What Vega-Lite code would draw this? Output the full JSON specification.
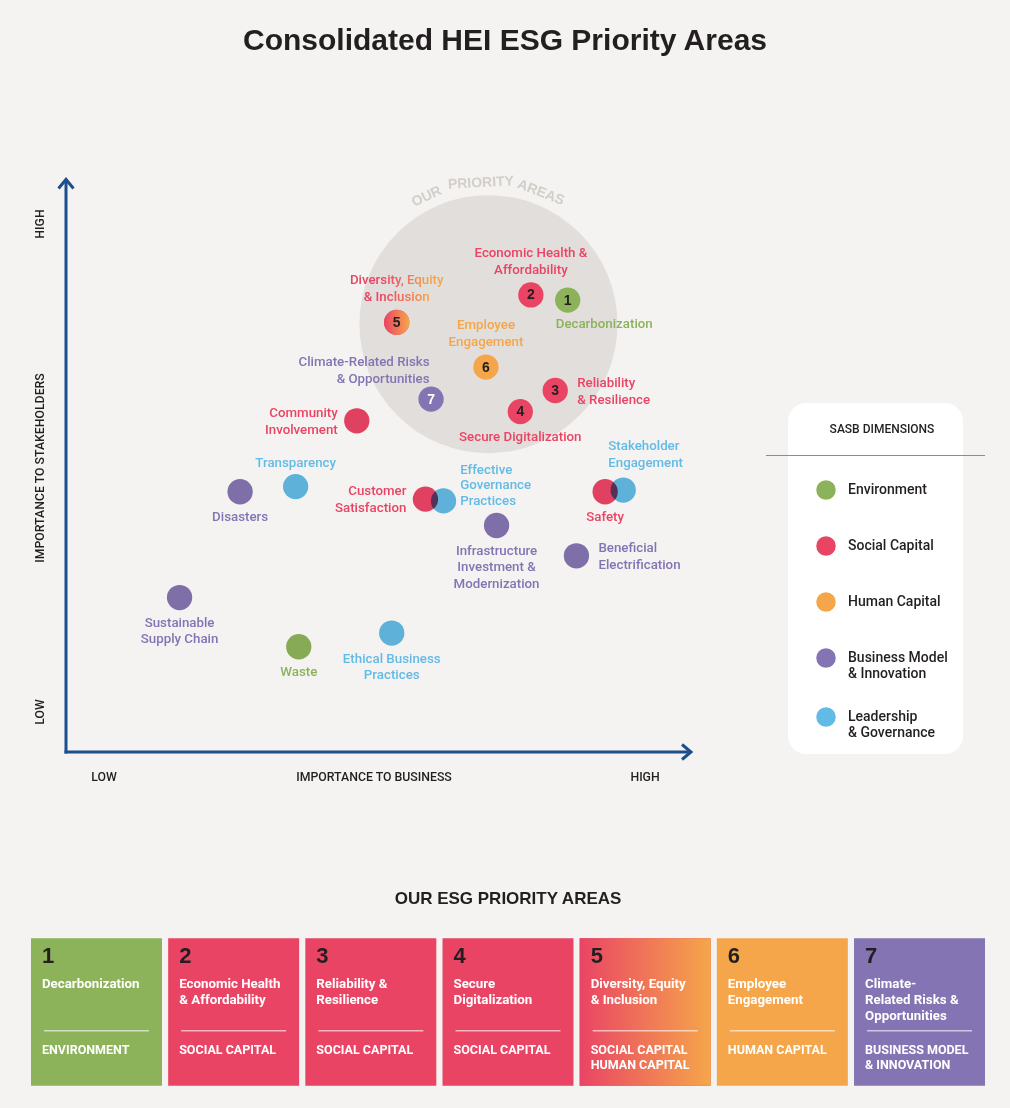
{
  "$schema": "https://vega.github.io/schema/vega-lite/v6.json",
  "width": 1010,
  "height": 1108,
  "autosize": {"type": "fit", "contains": "padding"},
  "padding": 0,
  "background": "#f4f3f1",
  "title": {"text": "Consolidated HEI ESG Priority Areas", "font": "Liberation Sans", "fontSize": 30, "fontWeight": "bold", "color": "#231f20", "anchor": "middle", "offset": -56, "frame": "group"},
  "config": {"view": {"stroke": null}, "axis": {"disable": true}},
  "datasets": {
    "points": [
      {"name": "Decarbonization", "label": "Decarbonization", "dim": "Environment", "bx": 80.4, "sy": 79.0, "num": 1, "pos": "bottomright"},
      {"name": "Economic Health & Affordability", "label": "Economic Health &\nAffordability", "dim": "Social Capital", "bx": 74.5, "sy": 79.9, "num": 2, "pos": "top2"},
      {"name": "Reliability & Resilience", "label": "Reliability\n& Resilience", "dim": "Social Capital", "bx": 78.4, "sy": 63.2, "num": 3, "pos": "right"},
      {"name": "Secure Digitalization", "label": "Secure Digitalization", "dim": "Social Capital", "bx": 72.8, "sy": 59.5, "num": 4, "pos": "bottom"},
      {"name": "Diversity, Equity & Inclusion", "label": "Diversity, Equity\n& Inclusion", "dim": "Social Capital", "bx": 53.0, "sy": 75.1, "num": 5, "pos": "topgradient"},
      {"name": "Employee Engagement", "label": "Employee\nEngagement", "dim": "Human Capital", "bx": 67.3, "sy": 67.3, "num": 6, "pos": "top2"},
      {"name": "Climate-Related Risks & Opportunities", "label": "Climate-Related Risks\n& Opportunities", "dim": "Business Model & Innovation", "bx": 58.5, "sy": 61.7, "num": 7, "pos": "topleft"},
      {"name": "Community Involvement", "label": "Community\nInvolvement", "dim": "Social Capital", "bx": 46.6, "sy": 57.9, "pos": "left"},
      {"name": "Transparency", "label": "Transparency", "dim": "Leadership & Governance", "bx": 36.8, "sy": 46.4, "pos": "top1"},
      {"name": "Disasters", "label": "Disasters", "dim": "Business Model & Innovation", "bx": 27.9, "sy": 45.5, "pos": "bottom"},
      {"name": "Customer Satisfaction", "label": "Customer\nSatisfaction", "dim": "Social Capital", "bx": 57.6, "sy": 44.2, "pos": "left"},
      {"name": "Effective Governance Practices", "label": "Effective\nGovernance\nPractices", "dim": "Leadership & Governance", "bx": 60.5, "sy": 43.9, "pos": "rightup"},
      {"name": "Safety", "label": "Safety", "dim": "Social Capital", "bx": 86.4, "sy": 45.5, "pos": "bottom"},
      {"name": "Stakeholder Engagement", "label": "Stakeholder\nEngagement", "dim": "Leadership & Governance", "bx": 89.3, "sy": 45.8, "pos": "topright"},
      {"name": "Infrastructure Investment & Modernization", "label": "Infrastructure\nInvestment &\nModernization", "dim": "Business Model & Innovation", "bx": 69.0, "sy": 39.6, "pos": "bottom"},
      {"name": "Beneficial Electrification", "label": "Beneficial\nElectrification", "dim": "Business Model & Innovation", "bx": 81.8, "sy": 34.3, "pos": "right"},
      {"name": "Sustainable Supply Chain", "label": "Sustainable\nSupply Chain", "dim": "Business Model & Innovation", "bx": 18.2, "sy": 27.0, "pos": "bottom"},
      {"name": "Waste", "label": "Waste", "dim": "Environment", "bx": 37.3, "sy": 18.4, "pos": "bottom"},
      {"name": "Ethical Business Practices", "label": "Ethical Business\nPractices", "dim": "Leadership & Governance", "bx": 52.2, "sy": 20.8, "pos": "bottom"}
    ],
    "cards": [
      {"id": "1", "name": "Decarbonization", "dimlab": "ENVIRONMENT", "dim": "Environment"},
      {"id": "2", "name": "Economic Health\n& Affordability", "dimlab": "SOCIAL CAPITAL", "dim": "Social Capital"},
      {"id": "3", "name": "Reliability &\nResilience", "dimlab": "SOCIAL CAPITAL", "dim": "Social Capital"},
      {"id": "4", "name": "Secure\nDigitalization", "dimlab": "SOCIAL CAPITAL", "dim": "Social Capital"},
      {"id": "5", "name": "Diversity, Equity\n& Inclusion", "dimlab": "SOCIAL CAPITAL\nHUMAN CAPITAL", "dim": "Social Capital"},
      {"id": "6", "name": "Employee\nEngagement", "dimlab": "HUMAN CAPITAL", "dim": "Human Capital"},
      {"id": "7", "name": "Climate-\nRelated Risks &\nOpportunities", "dimlab": "BUSINESS MODEL\n& INNOVATION", "dim": "Business Model & Innovation"}
    ]
  },
  "layer": [
    {
      "layer": [
        {
          "data": {"values": [{}]},
          "mark": {"type": "point", "filled": true, "size": 66564, "color": "#e2dedb", "opacity": 1},
          "encoding": {
            "x": {"datum": 67.7, "type": "quantitative", "scale": {"domain": [-10.577, 151.282], "nice": false, "zero": false}},
            "y": {"datum": 74.8, "type": "quantitative", "scale": {"domain": [-62.238, 131.469], "nice": false, "zero": false}}
          }
        },
        {
          "data": {"values": [{}]},
          "mark": {"type": "text", "text": "OUR", "angle": -25, "font": "Liberation Sans", "fontSize": 14, "fontWeight": "bold", "color": "#d3cec9", "align": "center", "baseline": "middle"},
          "encoding": {"x": {"datum": 57.8}, "y": {"datum": 97.1}}
        },
        {
          "data": {"values": [{}]},
          "mark": {"type": "text", "text": "PRIORITY", "angle": -3, "font": "Liberation Sans", "fontSize": 14, "fontWeight": "bold", "color": "#d3cec9", "align": "center", "baseline": "middle"},
          "encoding": {"x": {"datum": 66.5}, "y": {"datum": 99.48}}
        },
        {
          "data": {"values": [{}]},
          "mark": {"type": "text", "text": "AREAS", "angle": 21, "font": "Liberation Sans", "fontSize": 14, "fontWeight": "bold", "color": "#d3cec9", "align": "center", "baseline": "middle"},
          "encoding": {"x": {"datum": 76.1}, "y": {"datum": 97.8}}
        },
        {
          "data": {"values": [{}]},
          "mark": {"type": "rule", "color": "#1c4f8e", "strokeWidth": 3},
          "encoding": {"x": {"datum": 0}, "y": {"datum": -0.26}, "y2": {"datum": 99.7}}
        },
        {
          "data": {"values": [{}]},
          "mark": {"type": "rule", "color": "#1c4f8e", "strokeWidth": 3},
          "encoding": {"x": {"datum": -0.24}, "x2": {"datum": 99.8}, "y": {"datum": 0}}
        },
        {
          "data": {"values": [{}]},
          "mark": {"type": "point", "shape": "M -1 1.2 L 0 0 L 1 1.2", "size": 225, "filled": false, "color": "#1c4f8e", "strokeWidth": 3, "opacity": 1},
          "encoding": {"x": {"datum": 0}, "y": {"datum": 100.1}}
        },
        {
          "data": {"values": [{}]},
          "mark": {"type": "point", "shape": "M -1.2 -1 L 0 0 L -1.2 1", "size": 225, "filled": false, "color": "#1c4f8e", "strokeWidth": 3, "opacity": 1},
          "encoding": {"x": {"datum": 100.16}, "y": {"datum": 0}}
        },
        {
          "data": {"values": [{}]},
          "mark": {"type": "text", "text": "HIGH", "angle": 270, "font": "Roboto", "fontSize": 12.3, "fontWeight": 500, "color": "#231f20", "align": "center", "baseline": "middle"},
          "encoding": {"x": {"datum": -4.17}, "y": {"datum": 92.3}}
        },
        {
          "data": {"values": [{}]},
          "mark": {"type": "text", "text": "IMPORTANCE TO STAKEHOLDERS", "angle": 270, "font": "Roboto", "fontSize": 12.3, "fontWeight": 500, "color": "#231f20", "align": "center", "baseline": "middle"},
          "encoding": {"x": {"datum": -4.17}, "y": {"datum": 49.65}}
        },
        {
          "data": {"values": [{}]},
          "mark": {"type": "text", "text": "LOW", "angle": 270, "font": "Roboto", "fontSize": 12.3, "fontWeight": 500, "color": "#231f20", "align": "center", "baseline": "middle"},
          "encoding": {"x": {"datum": -4.17}, "y": {"datum": 7.0}}
        },
        {
          "data": {"values": [{}]},
          "mark": {"type": "text", "text": "LOW", "font": "Roboto", "fontSize": 12.3, "fontWeight": 500, "color": "#231f20", "align": "center", "baseline": "middle"},
          "encoding": {"x": {"datum": 6.09}, "y": {"datum": -4.37}}
        },
        {
          "data": {"values": [{}]},
          "mark": {"type": "text", "text": "IMPORTANCE TO BUSINESS", "font": "Roboto", "fontSize": 12.3, "fontWeight": 500, "color": "#231f20", "align": "center", "baseline": "middle"},
          "encoding": {"x": {"datum": 49.36}, "y": {"datum": -4.37}}
        },
        {
          "data": {"values": [{}]},
          "mark": {"type": "text", "text": "HIGH", "font": "Roboto", "fontSize": 12.3, "fontWeight": 500, "color": "#231f20", "align": "center", "baseline": "middle"},
          "encoding": {"x": {"datum": 92.8}, "y": {"datum": -4.37}}
        },
        {
          "data": {"values": [{}]},
          "mark": {"type": "rect", "cornerRadius": 18, "color": "#ffffff"},
          "encoding": {"x": {"datum": 115.71}, "x2": {"datum": 143.75}, "y": {"datum": 61.01}, "y2": {"datum": -0.35}}
        },
        {
          "data": {"values": [{}]},
          "mark": {"type": "rule", "color": "#8c8c8c", "strokeWidth": 1.2},
          "encoding": {"x": {"datum": 112.18}, "x2": {"datum": 147.28}, "y": {"datum": 51.84}}
        },
        {
          "data": {"name": "points"},
          "transform": [{"filter": "!isValid(datum.num)"}],
          "mark": {"type": "point", "filled": true, "size": 640, "opacity": 1, "blend": "multiply"},
          "encoding": {
            "x": {"field": "bx", "type": "quantitative"},
            "y": {"field": "sy", "type": "quantitative"},
            "color": {
              "field": "dim", "type": "nominal",
              "scale": {"domain": ["Environment", "Social Capital", "Human Capital", "Business Model & Innovation", "Leadership & Governance"], "range": ["#8cb35a", "#ea4465", "#f5a64a", "#8474b3", "#62bbe6"]},
              "legend": {
                "title": "SASB DIMENSIONS", "orient": "none", "legendX": 816, "legendY": 424, "direction": "vertical",
                "symbolType": "circle", "symbolSize": 380, "symbolStrokeWidth": 0, "symbolOpacity": 1,
                "labelFont": "Roboto", "labelFontSize": 14, "labelFontWeight": 500, "labelColor": "#231f20", "labelOffset": 12, "labelLimit": 200,
                "titleFont": "Roboto", "titleFontSize": 12, "titleFontWeight": 500, "titleColor": "#231f20", "titleAnchor": "middle", "titlePadding": 34,
                "rowPadding": 16, "clipHeight": 40, "padding": 0,
                "labelExpr": "datum.label == 'Business Model & Innovation' ? ['Business Model', '& Innovation'] : datum.label == 'Leadership & Governance' ? ['Leadership', '& Governance'] : datum.label"
              }
            }
          }
        },
        {
          "data": {"name": "points"},
          "transform": [{"filter": "isValid(datum.num)"}],
          "mark": {"type": "point", "filled": true, "size": 640, "opacity": 1},
          "encoding": {
            "x": {"field": "bx", "type": "quantitative"},
            "y": {"field": "sy", "type": "quantitative"},
            "color": {"field": "dim", "type": "nominal", "legend": null}
          }
        },
        {
          "data": {"name": "points"},
          "transform": [{"filter": "datum.num == 5"}],
          "mark": {"type": "point", "filled": true, "size": 640, "opacity": 1, "fill": {"gradient": "linear", "x1": 0, "x2": 1, "y1": 0, "y2": 0, "stops": [{"offset": 0, "color": "#ea4465"}, {"offset": 1, "color": "#f5a64a"}]}},
          "encoding": {
            "x": {"field": "bx", "type": "quantitative"},
            "y": {"field": "sy", "type": "quantitative"}
          }
        },
        {
          "data": {"name": "points"},
          "transform": [{"filter": "isValid(datum.num)"}],
          "mark": {"type": "text", "font": "Liberation Sans", "fontSize": 14, "fontWeight": "bold", "align": "center", "baseline": "middle", "dy": 0.5},
          "encoding": {
            "x": {"field": "bx", "type": "quantitative"},
            "y": {"field": "sy", "type": "quantitative"},
            "text": {"field": "num"},
            "color": {"condition": {"test": "datum.num == 7", "value": "#ffffff"}, "value": "#231f20"}
          }
        },
        {
          "data": {"name": "points"},
          "transform": [{"filter": "datum.pos == 'top2'"}],
          "mark": {"type": "text", "font": "Roboto", "fontSize": 13.3, "fontWeight": 500, "lineHeight": 17, "lineBreak": "\n", "align": "center", "baseline": "middle", "dy": -42.3},
          "encoding": {"x": {"field": "bx", "type": "quantitative"}, "y": {"field": "sy", "type": "quantitative"}, "text": {"field": "label"}, "color": {"field": "dim", "type": "nominal", "legend": null}}
        },
        {
          "data": {"name": "points"},
          "transform": [{"filter": "datum.pos == 'top1'"}],
          "mark": {"type": "text", "font": "Roboto", "fontSize": 13.3, "fontWeight": 500, "lineHeight": 17, "lineBreak": "\n", "align": "center", "baseline": "middle", "dy": -24},
          "encoding": {"x": {"field": "bx", "type": "quantitative"}, "y": {"field": "sy", "type": "quantitative"}, "text": {"field": "label"}, "color": {"field": "dim", "type": "nominal", "legend": null}}
        },
        {
          "data": {"name": "points"},
          "transform": [{"filter": "datum.pos == 'topgradient'"}],
          "mark": {"type": "text", "font": "Roboto", "fontSize": 13.3, "fontWeight": 500, "lineHeight": 17, "lineBreak": "\n", "align": "center", "baseline": "middle", "dy": -42.3,
            "fill": {"gradient": "linear", "x1": 0, "x2": 1, "y1": 0, "y2": 0, "stops": [{"offset": 0.35, "color": "#ea4465"}, {"offset": 0.85, "color": "#f5a64a"}]}},
          "encoding": {"x": {"field": "bx", "type": "quantitative"}, "y": {"field": "sy", "type": "quantitative"}, "text": {"field": "label"}}
        },
        {
          "data": {"name": "points"},
          "transform": [{"filter": "datum.pos == 'bottom'"}],
          "mark": {"type": "text", "font": "Roboto", "fontSize": 13.3, "fontWeight": 500, "lineHeight": 16.3, "lineBreak": "\n", "align": "center", "baseline": "middle", "dy": 25.5},
          "encoding": {"x": {"field": "bx", "type": "quantitative"}, "y": {"field": "sy", "type": "quantitative"}, "text": {"field": "label"}, "color": {"field": "dim", "type": "nominal", "legend": null}}
        },
        {
          "data": {"name": "points"},
          "transform": [{"filter": "datum.pos == 'left'"}],
          "mark": {"type": "text", "font": "Roboto", "fontSize": 13.3, "fontWeight": 500, "lineHeight": 17, "lineBreak": "\n", "align": "right", "baseline": "middle", "dx": -19, "dy": -7.8},
          "encoding": {"x": {"field": "bx", "type": "quantitative"}, "y": {"field": "sy", "type": "quantitative"}, "text": {"field": "label"}, "color": {"field": "dim", "type": "nominal", "legend": null}}
        },
        {
          "data": {"name": "points"},
          "transform": [{"filter": "datum.pos == 'right'"}],
          "mark": {"type": "text", "font": "Roboto", "fontSize": 13.3, "fontWeight": 500, "lineHeight": 17, "lineBreak": "\n", "align": "left", "baseline": "middle", "dx": 22, "dy": -7.5},
          "encoding": {"x": {"field": "bx", "type": "quantitative"}, "y": {"field": "sy", "type": "quantitative"}, "text": {"field": "label"}, "color": {"field": "dim", "type": "nominal", "legend": null}}
        },
        {
          "data": {"name": "points"},
          "transform": [{"filter": "datum.pos == 'bottomright'"}],
          "mark": {"type": "text", "font": "Roboto", "fontSize": 13.3, "fontWeight": 500, "lineHeight": 17, "lineBreak": "\n", "align": "left", "baseline": "middle", "dx": -12, "dy": 24},
          "encoding": {"x": {"field": "bx", "type": "quantitative"}, "y": {"field": "sy", "type": "quantitative"}, "text": {"field": "label"}, "color": {"field": "dim", "type": "nominal", "legend": null}}
        },
        {
          "data": {"name": "points"},
          "transform": [{"filter": "datum.pos == 'topleft'"}],
          "mark": {"type": "text", "font": "Roboto", "fontSize": 13.3, "fontWeight": 500, "lineHeight": 17, "lineBreak": "\n", "align": "right", "baseline": "middle", "dx": -1.5, "dy": -37.3},
          "encoding": {"x": {"field": "bx", "type": "quantitative"}, "y": {"field": "sy", "type": "quantitative"}, "text": {"field": "label"}, "color": {"field": "dim", "type": "nominal", "legend": null}}
        },
        {
          "data": {"name": "points"},
          "transform": [{"filter": "datum.pos == 'topright'"}],
          "mark": {"type": "text", "font": "Roboto", "fontSize": 13.3, "fontWeight": 500, "lineHeight": 17, "lineBreak": "\n", "align": "left", "baseline": "middle", "dx": -15, "dy": -43.6},
          "encoding": {"x": {"field": "bx", "type": "quantitative"}, "y": {"field": "sy", "type": "quantitative"}, "text": {"field": "label"}, "color": {"field": "dim", "type": "nominal", "legend": null}}
        },
        {
          "data": {"name": "points"},
          "transform": [{"filter": "datum.pos == 'rightup'"}],
          "mark": {"type": "text", "font": "Roboto", "fontSize": 13.3, "fontWeight": 500, "lineHeight": 15.5, "lineBreak": "\n", "align": "left", "baseline": "middle", "dx": 16.7, "dy": -31.3},
          "encoding": {"x": {"field": "bx", "type": "quantitative"}, "y": {"field": "sy", "type": "quantitative"}, "text": {"field": "label"}, "color": {"field": "dim", "type": "nominal", "legend": null}}
        }
      ]
    },
    {
      "data": {"name": "cards"},
      "layer": [
        {
          "mark": {"type": "bar", "opacity": 1},
          "encoding": {
            "x": {"field": "id", "type": "nominal", "scale": {"type": "band", "domain": ["1", "2", "3", "4", "5", "6", "7"], "paddingInner": 0.045, "paddingOuter": 0.204, "align": 0.5536}},
            "y": {"datum": 0, "type": "quantitative", "scale": {"domain": [-6.366, 1.1513], "reverse": true, "nice": false, "zero": false}},
            "y2": {"datum": 1},
            "color": {"field": "dim", "type": "nominal", "scale": {"domain": ["Environment", "Social Capital", "Human Capital", "Business Model & Innovation", "Leadership & Governance"], "range": ["#8cb35a", "#ea4465", "#f5a64a", "#8474b3", "#62bbe6"]}, "legend": null}
          }
        },
        {
          "transform": [{"filter": "datum.id == '5'"}],
          "mark": {"type": "bar", "opacity": 1, "fill": {"gradient": "linear", "x1": 0, "x2": 1, "y1": 0, "y2": 0, "stops": [{"offset": 0, "color": "#ea4465"}, {"offset": 1, "color": "#f5a64a"}]}},
          "encoding": {"x": {"field": "id", "type": "nominal"}, "y": {"datum": 0}, "y2": {"datum": 1}}
        },
        {
          "mark": {"type": "tick", "orient": "horizontal", "size": 105, "thickness": 1.5, "color": "#ffffff", "opacity": 0.6},
          "encoding": {"x": {"field": "id", "type": "nominal"}, "y": {"datum": 0.627}}
        },
        {
          "mark": {"type": "text", "font": "Liberation Sans", "fontSize": 22, "fontWeight": "bold", "color": "#231f20", "align": "left", "baseline": "middle", "dx": 11},
          "encoding": {"x": {"field": "id", "type": "nominal", "bandPosition": 0}, "y": {"datum": 0.12}, "text": {"field": "id"}}
        },
        {
          "mark": {"type": "text", "font": "Roboto", "fontSize": 13.3, "fontWeight": "bold", "color": "#ffffff", "align": "left", "baseline": "top", "dx": 11, "lineBreak": "\n", "lineHeight": 16},
          "encoding": {"x": {"field": "id", "type": "nominal", "bandPosition": 0}, "y": {"datum": 0.262}, "text": {"field": "name"}}
        },
        {
          "mark": {"type": "text", "font": "Roboto", "fontSize": 12.5, "fontWeight": "bold", "color": "#ffffff", "align": "left", "baseline": "top", "dx": 11, "lineBreak": "\n", "lineHeight": 15},
          "encoding": {"x": {"field": "id", "type": "nominal", "bandPosition": 0}, "y": {"datum": 0.716}, "text": {"field": "dimlab"}}
        },
        {
          "data": {"values": [{}]},
          "mark": {"type": "text", "text": "OUR ESG PRIORITY AREAS", "font": "Liberation Sans", "fontSize": 17, "fontWeight": "bold", "color": "#231f20", "align": "center", "baseline": "middle"},
          "encoding": {"x": {"datum": "4", "type": "nominal"}, "y": {"datum": -0.2666}}
        }
      ]
    }
  ],
  "resolve": {"scale": {"x": "independent", "y": "independent", "color": "independent"}}
}
